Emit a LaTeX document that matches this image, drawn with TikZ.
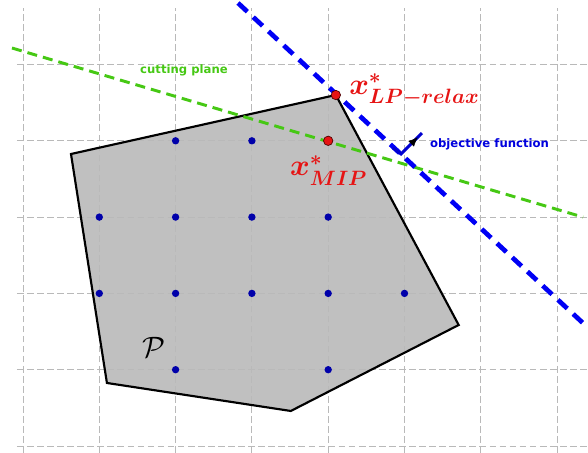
\documentclass[tikz,border=0pt]{standalone}
\usepackage{graphicx}
\usepackage{fontspec}
\newfontfamily\labelfont{DejaVu Sans}
\usetikzlibrary{decorations.markings,arrows.meta}
\definecolor{cutgreen}{RGB}{70,200,20}
\definecolor{objblue}{RGB}{0,0,245}
\definecolor{dotblue}{RGB}{0,0,170}
\definecolor{polygray}{RGB}{192,192,192}
\definecolor{gridgray}{RGB}{185,185,185}
\definecolor{ptred}{RGB}{230,20,20}
\tikzset{
  gridline/.style={gridgray, line width=0.6pt, dash pattern=on 5pt off 2.5pt},
  lattice/.style={circle, fill=dotblue, inner sep=0pt, minimum size=5.5pt},
  optpt/.style={circle, fill=ptred, draw=black!70!red, line width=0.5pt, inner sep=0pt, minimum size=7pt},
  cutline/.style={cutgreen, line width=2.2pt, dash pattern=on 7.5pt off 4.5pt},
  objline/.style={objblue, line width=3.5pt, dash pattern=on 9.5pt off 6pt},
  smalllabel/.style={font=\labelfont\bfseries\fontsize{8.7}{10}\selectfont, inner sep=0pt},
  bigmath/.style={font=\fontsize{20.74}{25}\selectfont\boldmath, text=ptred, inner sep=0pt}
}
\begin{document}
\begin{tikzpicture}[x=2cm,y=2cm]
\useasboundingbox (-0.3014,-0.0917) rectangle (7.4050,5.8453);
% polygon vertices
\coordinate (v1) at (0.629,3.827);
\coordinate (v2) at (4.10,4.60);
\coordinate (v3) at (5.71,1.586);
\coordinate (v4) at (3.51,0.459);
\coordinate (v5) at (1.10,0.826);
\fill[polygray] (v1) -- (v2) -- (v3) -- (v4) -- (v5) -- cycle;
% grid
\foreach \i in {0,...,7} \draw[gridline] (\i,-0.0917) -- (\i,5.74);
\foreach \j in {0,...,5} \draw[gridline] (-0.08,\j) -- (7.405,\j);
\draw[black, line width=1.6pt, line join=miter] (v1) -- (v2) -- (v3) -- (v4) -- (v5) -- cycle;
% lattice points
\foreach \p in {(2,4),(3,4),(1,3),(2,3),(3,3),(4,3),(1,2),(2,2),(3,2),(4,2),(5,2),(2,1),(4,1)}
  \node[lattice] at \p {};
% cutting plane
\coordinate (c1) at (-0.144,5.216);
\coordinate (c2) at (7.34,3.0);
\draw[cutline] (c1) -- (c2);
% objective line
\coordinate (o1) at (2.818,5.806);
\coordinate (o2) at (7.366,1.586);
\draw[objline] (o1) -- (o2);
% objective direction
\coordinate (a1) at (4.849,3.906);
\coordinate (a2) at (4.954,3.827);
\coordinate (a3) at (5.229,4.102);
\draw[objblue!85!black, line width=2.2pt, line join=miter] (a1) -- (a2) -- (a3);
\path[decorate, decoration={markings, mark=at position 0.8 with {\arrow[black]{Latex[length=7pt,width=6pt]}}}] (a2) -- (a3);
% points
\node[optpt] (lp) at (v2) {};
\node[optpt] (mip) at (4,4) {};
% labels
\node[smalllabel, text=cutgreen] (cutlab) at (2.11,4.93) {cutting plane};
\node[smalllabel, text=objblue!90!black] (objlab) at (6.114,3.958) {objective function};
\node[bigmath, anchor=base west] (lplab) at (4.273,4.613) {\scalebox{1.075}{$x^*_{LP-relax}$}};
\node[bigmath, anchor=base west] (miplab) at (3.499,3.539) {\scalebox{1.075}{$x^*_{MIP}$}};
\node[font=\fontsize{20.74}{25}\selectfont, inner sep=0pt] (plab) at (1.717,1.291) {\scalebox{1.06}{$\mathcal{P}$}};
\end{tikzpicture}
\end{document}
